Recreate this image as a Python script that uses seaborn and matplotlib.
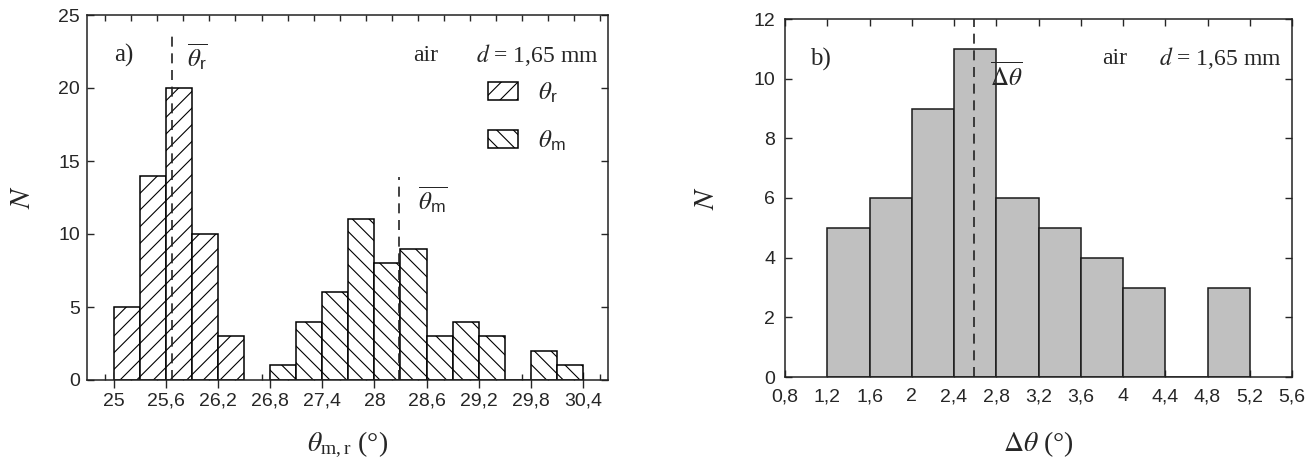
import numpy as np
import seaborn as sns
import matplotlib.pyplot as plt
from matplotlib.patches import Patch
from matplotlib.ticker import MultipleLocator, FixedLocator, FuncFormatter

# panel a) contact angle histograms (bin width 0.3 deg)
theta_r_centers = [25.15, 25.45, 25.75, 26.05, 26.35]
theta_r_counts = [5, 14, 20, 10, 3]
theta_m_centers = [26.95, 27.25, 27.55, 27.85, 28.15, 28.45, 28.75, 29.05, 29.35, 29.65, 29.95, 30.25]
theta_m_counts = [1, 4, 6, 11, 8, 9, 3, 4, 3, 0, 2, 1]
theta_r_mean = 25.67
theta_m_mean = 28.28
theta_ticks = [25.0, 25.6, 26.2, 26.8, 27.4, 28.0, 28.6, 29.2, 29.8, 30.4]

# panel b) hysteresis histogram (bin width 0.4 deg)
dtheta_centers = [1.4, 1.8, 2.2, 2.6, 3.0, 3.4, 3.8, 4.2, 4.6, 5.0]
dtheta_counts = [5, 6, 9, 11, 6, 5, 4, 3, 0, 3]
dtheta_mean = 2.59

sns.set_style("ticks")
plt.rcParams["font.family"] = ["Liberation Sans", "DejaVu Sans"]
plt.rcParams["mathtext.fontset"] = "stix"
plt.rcParams["hatch.linewidth"] = 0.8

SERIF = ["Liberation Serif", "DejaVu Serif"]


def edges(centers, width):
    start = centers[0] - width / 2
    return list(np.linspace(start, start + len(centers) * width, len(centers) + 1))


def comma(x, pos):
    return f"{round(x, 1):g}".replace(".", ",")


fig = plt.figure(figsize=(13.05, 4.59), dpi=100)
ax1 = fig.add_axes([87 / 1305, 79 / 459, 521 / 1305, 365 / 459])
ax2 = fig.add_axes([785 / 1305, 82 / 459, 507 / 1305, 358 / 459])

# ---- panel a
sns.histplot(x=theta_r_centers, weights=theta_r_counts, bins=edges(theta_r_centers, 0.3),
             ax=ax1, color="white", edgecolor="black", linewidth=1.1, hatch="//", alpha=1)
sns.histplot(x=theta_m_centers, weights=theta_m_counts, bins=edges(theta_m_centers, 0.3),
             ax=ax1, color="white", edgecolor="black", linewidth=1.1, hatch="\\\\", alpha=1)
ax1.plot([theta_r_mean, theta_r_mean], [0, 23.6], color="#222222", lw=1.2, ls=(0, (6, 4)))
ax1.plot([theta_m_mean, theta_m_mean], [0, 13.9], color="#222222", lw=1.2, ls=(0, (6, 4)))

ax1.set_xlim(24.69, 30.69)
ax1.set_ylim(0, 25)
ax1.xaxis.set_major_locator(FixedLocator(theta_ticks))
ax1.xaxis.set_minor_locator(MultipleLocator(0.3))
ax1.yaxis.set_major_locator(MultipleLocator(5))
ax1.xaxis.set_major_formatter(FuncFormatter(comma))
ax1.tick_params(axis="x", which="major", direction="inout", length=12, width=1, pad=3,
                labelsize=14, top=False)
ax1.tick_params(axis="x", which="minor", direction="in", length=4, width=1, top=True)
ax1.tick_params(axis="y", direction="in", length=5, width=1, right=True, labelsize=14, pad=5)

ax1.text(25.0, 22.25, "a)", fontsize=18, family=SERIF, va="center", ha="left")
ax1.text(25.84, 22.1, r"$\overline{\theta_{\mathregular{r}}}$", fontsize=18, va="center", ha="left")
ax1.text(28.5, 12.3, r"$\overline{\theta_{\mathregular{m}}}$", fontsize=18, va="center", ha="left")
ax1.text(28.45, 22.25, "air", fontsize=17, family=SERIF, va="center", ha="left")
ax1.text(30.58, 22.25, r"$d$ = 1,65 mm", fontsize=17, family=SERIF, va="center", ha="right")

handles = [Patch(facecolor="white", edgecolor="black", hatch="//", linewidth=1.1),
           Patch(facecolor="white", edgecolor="black", hatch="\\\\", linewidth=1.1)]
ax1.legend(handles, [r"$\theta_{\mathregular{r}}$", r"$\theta_{\mathregular{m}}$"], loc="upper left",
           bbox_to_anchor=(0.77, 0.82), frameon=False, fontsize=18, borderpad=0,
           borderaxespad=0, handlelength=1.2, handleheight=0.7, handletextpad=0.8,
           labelspacing=0.95)

ax1.set_xlabel(r"$\theta_{\mathregular{m,r}}$ (°)", fontsize=20, family=SERIF)
ax1.set_ylabel(r"$N$", fontsize=21, rotation=90)
ax1.xaxis.set_label_coords(0.5, -0.135)
ax1.yaxis.set_label_coords(-0.098, 0.5)

# ---- panel b
sns.histplot(x=dtheta_centers, weights=dtheta_counts, bins=edges(dtheta_centers, 0.4),
             ax=ax2, color="#c0c0c0", edgecolor="#1a1a1a", linewidth=1.1, alpha=1)
ax2.plot([dtheta_mean, dtheta_mean], [0, 12], color="#222222", lw=1.2, ls=(0, (6, 4)))

ax2.set_xlim(0.8, 5.6)
ax2.set_ylim(0, 12)
ax2.xaxis.set_major_locator(MultipleLocator(0.4))
ax2.yaxis.set_major_locator(MultipleLocator(2))
ax2.xaxis.set_major_formatter(FuncFormatter(comma))
ax2.tick_params(axis="x", direction="in", length=5, width=1, top=True, labelsize=14, pad=8)
ax2.tick_params(axis="y", direction="in", length=5, width=1, right=True, labelsize=14, pad=7)

ax2.text(1.04, 10.66, "b)", fontsize=18, family=SERIF, va="center", ha="left")
ax2.text(2.74, 10.1, r"$\overline{\Delta\theta}$", fontsize=18, va="center", ha="left")
ax2.text(3.8, 10.69, "air", fontsize=17, family=SERIF, va="center", ha="left")
ax2.text(5.5, 10.69, r"$d$ = 1,65 mm", fontsize=17, family=SERIF, va="center", ha="right")

ax2.set_xlabel(r"$\Delta\theta$ (°)", fontsize=20, family=SERIF)
ax2.set_ylabel(r"$N$", fontsize=21, rotation=90)
ax2.xaxis.set_label_coords(0.5, -0.145)
ax2.yaxis.set_label_coords(-0.128, 0.5)

for ax in (ax1, ax2):
    for s in ax.spines.values():
        s.set_linewidth(1.1)
        s.set_color("#222222")

fig.savefig("out.png", dpi=100)
